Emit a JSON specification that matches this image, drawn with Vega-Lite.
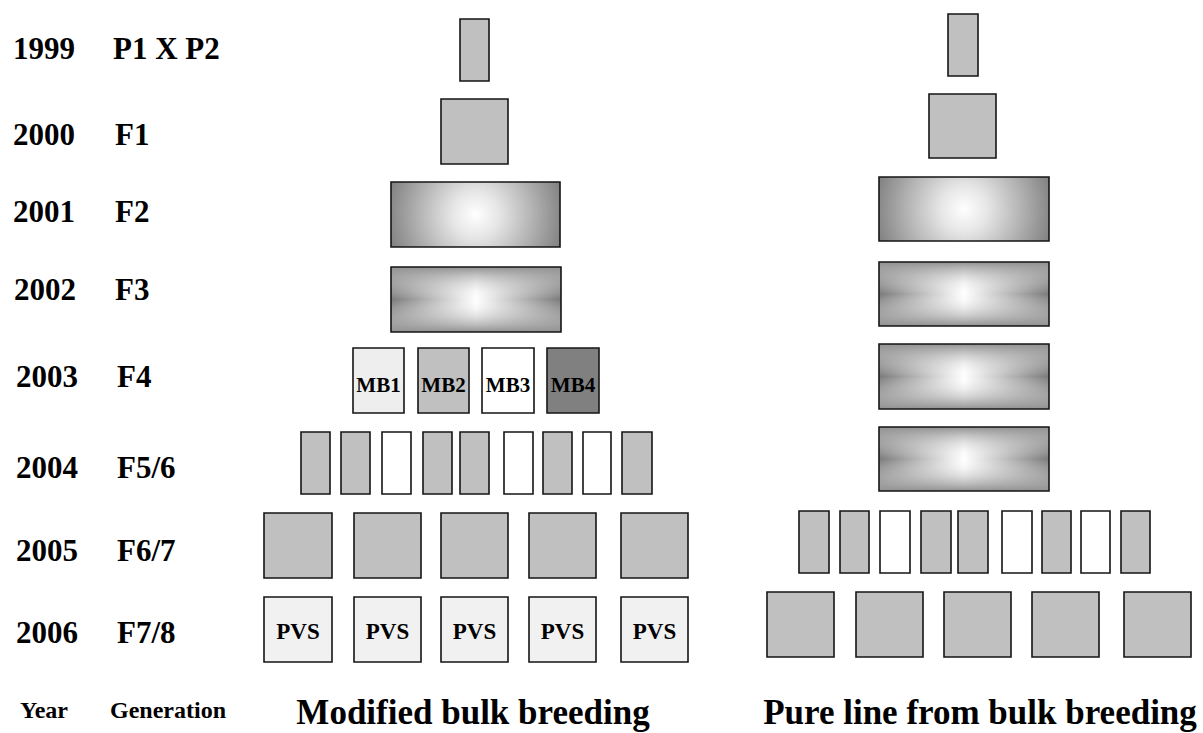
{
  "$schema": "https://vega.github.io/schema/vega-lite/v6.json",
  "width": 1203,
  "height": 733,
  "autosize": "none",
  "padding": 0,
  "background": "white",
  "config": {"view": {"stroke": null}},
  "datasets": {
    "plain": [
      {"panel": "Modified bulk", "year": 1999, "x0": 460, "x1": 489, "y0": 19, "y1": 81, "shade": "gray"},
      {"panel": "Modified bulk", "year": 2000, "x0": 441, "x1": 508, "y0": 99, "y1": 164, "shade": "gray"},
      {"panel": "Modified bulk", "year": 2003, "x0": 353, "x1": 404, "y0": 348, "y1": 413, "shade": "light"},
      {"panel": "Modified bulk", "year": 2003, "x0": 418, "x1": 469, "y0": 348, "y1": 413, "shade": "gray"},
      {"panel": "Modified bulk", "year": 2003, "x0": 482, "x1": 534, "y0": 348, "y1": 413, "shade": "white"},
      {"panel": "Modified bulk", "year": 2003, "x0": 547, "x1": 599, "y0": 348, "y1": 413, "shade": "dark"},
      {"panel": "Modified bulk", "year": 2004, "x0": 301, "x1": 330, "y0": 432, "y1": 494, "shade": "gray"},
      {"panel": "Modified bulk", "year": 2004, "x0": 341, "x1": 370, "y0": 432, "y1": 494, "shade": "gray"},
      {"panel": "Modified bulk", "year": 2004, "x0": 382, "x1": 411, "y0": 432, "y1": 494, "shade": "white"},
      {"panel": "Modified bulk", "year": 2004, "x0": 423, "x1": 452, "y0": 432, "y1": 494, "shade": "gray"},
      {"panel": "Modified bulk", "year": 2004, "x0": 460, "x1": 489, "y0": 432, "y1": 494, "shade": "gray"},
      {"panel": "Modified bulk", "year": 2004, "x0": 504, "x1": 533, "y0": 432, "y1": 494, "shade": "white"},
      {"panel": "Modified bulk", "year": 2004, "x0": 543, "x1": 572, "y0": 432, "y1": 494, "shade": "gray"},
      {"panel": "Modified bulk", "year": 2004, "x0": 583, "x1": 611, "y0": 432, "y1": 494, "shade": "white"},
      {"panel": "Modified bulk", "year": 2004, "x0": 622, "x1": 652, "y0": 432, "y1": 494, "shade": "gray"},
      {"panel": "Modified bulk", "year": 2005, "x0": 264, "x1": 332, "y0": 513, "y1": 578, "shade": "gray"},
      {"panel": "Modified bulk", "year": 2005, "x0": 354, "x1": 421, "y0": 513, "y1": 578, "shade": "gray"},
      {"panel": "Modified bulk", "year": 2005, "x0": 441, "x1": 508, "y0": 513, "y1": 578, "shade": "gray"},
      {"panel": "Modified bulk", "year": 2005, "x0": 529, "x1": 596, "y0": 513, "y1": 578, "shade": "gray"},
      {"panel": "Modified bulk", "year": 2005, "x0": 621, "x1": 688, "y0": 513, "y1": 578, "shade": "gray"},
      {"panel": "Modified bulk", "year": 2006, "x0": 264, "x1": 332, "y0": 597, "y1": 662, "shade": "dotted"},
      {"panel": "Modified bulk", "year": 2006, "x0": 354, "x1": 421, "y0": 597, "y1": 662, "shade": "dotted"},
      {"panel": "Modified bulk", "year": 2006, "x0": 441, "x1": 508, "y0": 597, "y1": 662, "shade": "dotted"},
      {"panel": "Modified bulk", "year": 2006, "x0": 529, "x1": 596, "y0": 597, "y1": 662, "shade": "dotted"},
      {"panel": "Modified bulk", "year": 2006, "x0": 621, "x1": 688, "y0": 597, "y1": 662, "shade": "dotted"},
      {"panel": "Pure line", "year": 1999, "x0": 948, "x1": 978, "y0": 14, "y1": 76, "shade": "gray"},
      {"panel": "Pure line", "year": 2000, "x0": 929, "x1": 996, "y0": 94, "y1": 158, "shade": "gray"},
      {"panel": "Pure line", "year": 2005, "x0": 799, "x1": 829, "y0": 511, "y1": 573, "shade": "gray"},
      {"panel": "Pure line", "year": 2005, "x0": 840, "x1": 869, "y0": 511, "y1": 573, "shade": "gray"},
      {"panel": "Pure line", "year": 2005, "x0": 880, "x1": 910, "y0": 511, "y1": 573, "shade": "white"},
      {"panel": "Pure line", "year": 2005, "x0": 921, "x1": 951, "y0": 511, "y1": 573, "shade": "gray"},
      {"panel": "Pure line", "year": 2005, "x0": 958, "x1": 988, "y0": 511, "y1": 573, "shade": "gray"},
      {"panel": "Pure line", "year": 2005, "x0": 1002, "x1": 1032, "y0": 511, "y1": 573, "shade": "white"},
      {"panel": "Pure line", "year": 2005, "x0": 1042, "x1": 1071, "y0": 511, "y1": 573, "shade": "gray"},
      {"panel": "Pure line", "year": 2005, "x0": 1081, "x1": 1110, "y0": 511, "y1": 573, "shade": "white"},
      {"panel": "Pure line", "year": 2005, "x0": 1121, "x1": 1150, "y0": 511, "y1": 573, "shade": "gray"},
      {"panel": "Pure line", "year": 2006, "x0": 767, "x1": 834, "y0": 592, "y1": 657, "shade": "gray"},
      {"panel": "Pure line", "year": 2006, "x0": 856, "x1": 923, "y0": 592, "y1": 657, "shade": "gray"},
      {"panel": "Pure line", "year": 2006, "x0": 944, "x1": 1011, "y0": 592, "y1": 657, "shade": "gray"},
      {"panel": "Pure line", "year": 2006, "x0": 1032, "x1": 1099, "y0": 592, "y1": 657, "shade": "gray"},
      {"panel": "Pure line", "year": 2006, "x0": 1124, "x1": 1191, "y0": 592, "y1": 657, "shade": "gray"}
    ],
    "radial": [
      {"panel": "Modified bulk", "year": 2001, "x0": 391, "x1": 560, "y0": 182, "y1": 247},
      {"panel": "Pure line", "year": 2001, "x0": 879, "x1": 1049, "y0": 177, "y1": 241}
    ],
    "box": [
      {"panel": "Modified bulk", "year": 2002, "x0": 391, "x1": 561, "y0": 267, "y1": 332},
      {"panel": "Pure line", "year": 2002, "x0": 879, "x1": 1049, "y0": 262, "y1": 326},
      {"panel": "Pure line", "year": 2003, "x0": 879, "x1": 1049, "y0": 344, "y1": 409},
      {"panel": "Pure line", "year": 2004, "x0": 879, "x1": 1049, "y0": 427, "y1": 491}
    ],
    "rows": [
      {"year": "1999", "generation": "P1 X P2", "xy": 13, "xg": 113, "yb": 59},
      {"year": "2000", "generation": "F1", "xy": 13, "xg": 115, "yb": 145},
      {"year": "2001", "generation": "F2", "xy": 13, "xg": 115, "yb": 222},
      {"year": "2002", "generation": "F3", "xy": 14, "xg": 115, "yb": 300},
      {"year": "2003", "generation": "F4", "xy": 16, "xg": 117, "yb": 387},
      {"year": "2004", "generation": "F5/6", "xy": 16, "xg": 117, "yb": 478},
      {"year": "2005", "generation": "F6/7", "xy": 16, "xg": 117, "yb": 561},
      {"year": "2006", "generation": "F7/8", "xy": 16, "xg": 117, "yb": 643}
    ]
  },
  "encoding": {
    "x": {"field": "x0", "type": "quantitative", "scale": {"domain": [0, 1203], "nice": false, "zero": false}, "axis": null},
    "y": {"field": "y0", "type": "quantitative", "scale": {"domain": [0, 733], "nice": false, "zero": false, "reverse": true}, "axis": null}
  },
  "layer": [
    {
      "data": {"name": "plain"},
      "mark": {"type": "rect", "stroke": "#151515", "strokeWidth": 1.6},
      "encoding": {
        "x2": {"field": "x1"},
        "y2": {"field": "y1"},
        "fill": {"field": "shade", "type": "nominal", "legend": null,
          "scale": {"domain": ["gray", "white", "light", "dark", "dotted"], "range": ["#c0c0c0", "#ffffff", "#eeeeee", "#808080", "#f1f1f1"]}}
      }
    },
    {
      "data": {"name": "radial"},
      "mark": {"type": "rect", "stroke": "#151515", "strokeWidth": 1.6,
        "fill": {"gradient": "radial", "x1": 0.5, "y1": 0.5, "r1": 0, "x2": 0.5, "y2": 0.5, "r2": 0.55,
          "stops": [{"offset": 0, "color": "#ffffff"}, {"offset": 0.25, "color": "#e6e6e6"}, {"offset": 1, "color": "#7c7c7c"}]}},
      "encoding": {"x2": {"field": "x1"}, "y2": {"field": "y1"}}
    },
    {
      "data": {"name": "box"},
      "mark": {"type": "rect",
        "fill": {"gradient": "linear", "x1": 0, "y1": 0, "x2": 1, "y2": 0,
          "stops": [{"offset": 0, "color": "#7a7a7a"}, {"offset": 0.5, "color": "#ffffff"}, {"offset": 1, "color": "#7a7a7a"}]}},
      "encoding": {"x2": {"field": "x1"}, "y2": {"field": "y1"}}
    },
    {
      "data": {"name": "box"},
      "mark": {"type": "rect", "stroke": "#151515", "strokeWidth": 1.6,
        "fill": {"gradient": "linear", "x1": 0, "y1": 0, "x2": 0, "y2": 1,
          "stops": [{"offset": 0, "color": "rgba(145,145,145,1)"}, {"offset": 0.5, "color": "rgba(255,255,255,0)"}, {"offset": 1, "color": "rgba(145,145,145,1)"}]}},
      "encoding": {"x2": {"field": "x1"}, "y2": {"field": "y1"}}
    },
    {
      "data": {"name": "rows"},
      "mark": {"type": "text", "font": "Liberation Serif", "fontWeight": "bold", "fontSize": 31, "align": "left", "baseline": "alphabetic", "color": "black"},
      "encoding": {
        "x": {"field": "xy", "type": "quantitative"},
        "y": {"field": "yb", "type": "quantitative"},
        "text": {"field": "year"}
      }
    },
    {
      "data": {"name": "rows"},
      "mark": {"type": "text", "font": "Liberation Serif", "fontWeight": "bold", "fontSize": 31, "align": "left", "baseline": "alphabetic", "color": "black"},
      "encoding": {
        "x": {"field": "xg", "type": "quantitative"},
        "y": {"field": "yb", "type": "quantitative"},
        "text": {"field": "generation"}
      }
    },
    {
      "data": {"values": [
        {"label": "MB1", "xc": 378.5, "yb": 392},
        {"label": "MB2", "xc": 443.5, "yb": 392},
        {"label": "MB3", "xc": 508, "yb": 392},
        {"label": "MB4", "xc": 573, "yb": 392}
      ]},
      "mark": {"type": "text", "font": "Liberation Serif", "fontWeight": "bold", "fontSize": 21, "letterSpacing": -1.5, "align": "center", "baseline": "alphabetic", "color": "black"},
      "encoding": {
        "x": {"field": "xc", "type": "quantitative"},
        "y": {"field": "yb", "type": "quantitative"},
        "text": {"field": "label"}
      }
    },
    {
      "data": {"values": [
        {"label": "PVS", "xc": 298, "yb": 639},
        {"label": "PVS", "xc": 387.5, "yb": 639},
        {"label": "PVS", "xc": 474.5, "yb": 639},
        {"label": "PVS", "xc": 562.5, "yb": 639},
        {"label": "PVS", "xc": 654.5, "yb": 639}
      ]},
      "mark": {"type": "text", "font": "Liberation Serif", "fontWeight": "bold", "fontSize": 23, "align": "center", "baseline": "alphabetic", "color": "black"},
      "encoding": {
        "x": {"field": "xc", "type": "quantitative"},
        "y": {"field": "yb", "type": "quantitative"},
        "text": {"field": "label"}
      }
    },
    {
      "data": {"values": [
        {"label": "Year", "xl": 20, "yb": 718},
        {"label": "Generation", "xl": 110, "yb": 718}
      ]},
      "mark": {"type": "text", "font": "Liberation Serif", "fontWeight": "bold", "fontSize": 24, "align": "left", "baseline": "alphabetic", "color": "black"},
      "encoding": {
        "x": {"field": "xl", "type": "quantitative"},
        "y": {"field": "yb", "type": "quantitative"},
        "text": {"field": "label"}
      }
    },
    {
      "data": {"values": [
        {"label": "Modified bulk breeding", "xc": 473, "yb": 724},
        {"label": "Pure line from bulk breeding", "xc": 980, "yb": 724}
      ]},
      "mark": {"type": "text", "font": "Liberation Serif", "fontWeight": "bold", "fontSize": 35, "align": "center", "baseline": "alphabetic", "color": "black"},
      "encoding": {
        "x": {"field": "xc", "type": "quantitative"},
        "y": {"field": "yb", "type": "quantitative"},
        "text": {"field": "label"}
      }
    }
  ]
}
